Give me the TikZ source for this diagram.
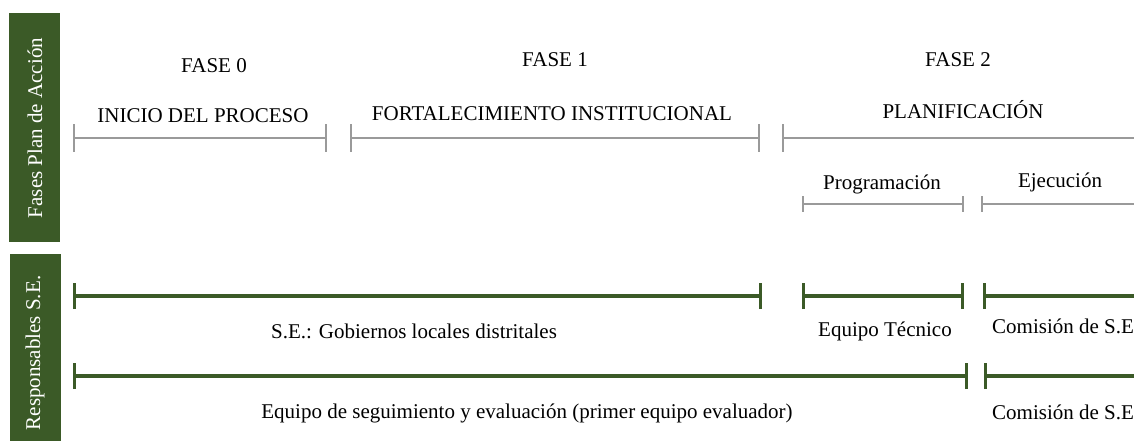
\documentclass[tikz,border=0pt]{standalone}
\usepackage{fontspec}
\setmainfont{Liberation Serif}
\definecolor{olive}{HTML}{3B5A27}
\definecolor{lgray}{HTML}{9A9A9A}
\tikzset{
  lbl/.style={font=\fontsize{21}{25}\selectfont, inner sep=0pt, anchor=base},
  lblw/.style={lbl, anchor=base west},
  side/.style={fill=olive, draw=none},
  sidetext/.style={font=\fontsize{21}{25}\selectfont, text=white, rotate=90, inner sep=0pt},
  gline/.style={draw=lgray, line width=2pt},
  tline/.style={draw=olive, line width=4pt},
  ttick/.style={draw=olive, line width=3pt},
}
\begin{document}
\begin{tikzpicture}[x=1pt,y=-1pt]
\useasboundingbox (0,0) rectangle (1134,446);
% side boxes
\path[side] (9,13) rectangle (60,242);
\node[sidetext] (s1) at (35,128) {Fases Plan de Acción};
\path[side] (10,254) rectangle (61,441);
\node[sidetext] (s2) at (35,353) {Responsables S.E.};

% phase labels
\node[lbl] (f0) at (214,73) {FASE 0};
\node[lbl] (f1) at (555,67) {FASE 1};
\node[lbl] (f2) at (958,67) {FASE 2};
\node[lbl] (p0) at (203,123) {INICIO DEL PROCESO};
\node[lbl] (p1) at (552,121) {FORTALECIMIENTO INSTITUCIONAL};
\node[lbl] (p2) at (963,119) {PLANIFICACIÓN};
\node[lbl] (q1) at (882,190) {Programación};
\node[lbl] (q2) at (1060,188) {Ejecución};

% gray phase lines
\coordinate (a1) at (74,138); \coordinate (a2) at (326,138);
\coordinate (b1) at (351,138); \coordinate (b2) at (759,138);
\coordinate (c1) at (783,138); \coordinate (c2) at (1136,138);
\draw[gline] (a1) -- (a2);
\draw[gline] (b1) -- (b2);
\draw[gline] (c1) -- (c2);
\foreach \p in {a1,a2,b1,b2,c1}{\draw[gline] ([yshift=-14pt]\p) -- ([yshift=14pt]\p);}
\coordinate (d1) at (803,204); \coordinate (d2) at (963,204);
\coordinate (e1) at (982,204); \coordinate (e2) at (1136,204);
\draw[gline] (d1) -- (d2);
\draw[gline] (e1) -- (e2);
\foreach \p in {d1,d2,e1}{\draw[gline] ([yshift=-8pt]\p) -- ([yshift=8pt]\p);}

% green responsibility lines
\coordinate (g1) at (74,296); \coordinate (g2) at (760,296);
\coordinate (h1) at (803,296); \coordinate (h2) at (962,296);
\coordinate (i1) at (984,296); \coordinate (i2) at (1136,296);
\draw[tline] (g1) -- (g2);
\draw[tline] (h1) -- (h2);
\draw[tline] (i1) -- (i2);
\foreach \p in {g1,g2,h1,h2,i1}{\draw[ttick] ([yshift=-13pt]\p) -- ([yshift=13pt]\p);}
\coordinate (j1) at (74,376); \coordinate (j2) at (966,376);
\coordinate (k1) at (985,376); \coordinate (k2) at (1136,376);
\draw[tline] (j1) -- (j2);
\draw[tline] (k1) -- (k2);
\foreach \p in {j1,j2,k1}{\draw[ttick] ([yshift=-13pt]\p) -- ([yshift=13pt]\p);}

% responsible labels
\node[lbl] (r1) at (414,338) {S.E.: Gobiernos locales distritales};
\node[lbl] (r2) at (885,336) {Equipo Técnico};
\node[lblw] (r3) at (992,333) {Comisión de S.E};
\node[lbl] (r4) at (527,418) {Equipo de seguimiento y evaluación (primer equipo evaluador)};
\node[lblw] (r5) at (992,419) {Comisión de S.E};
\end{tikzpicture}
\end{document}
